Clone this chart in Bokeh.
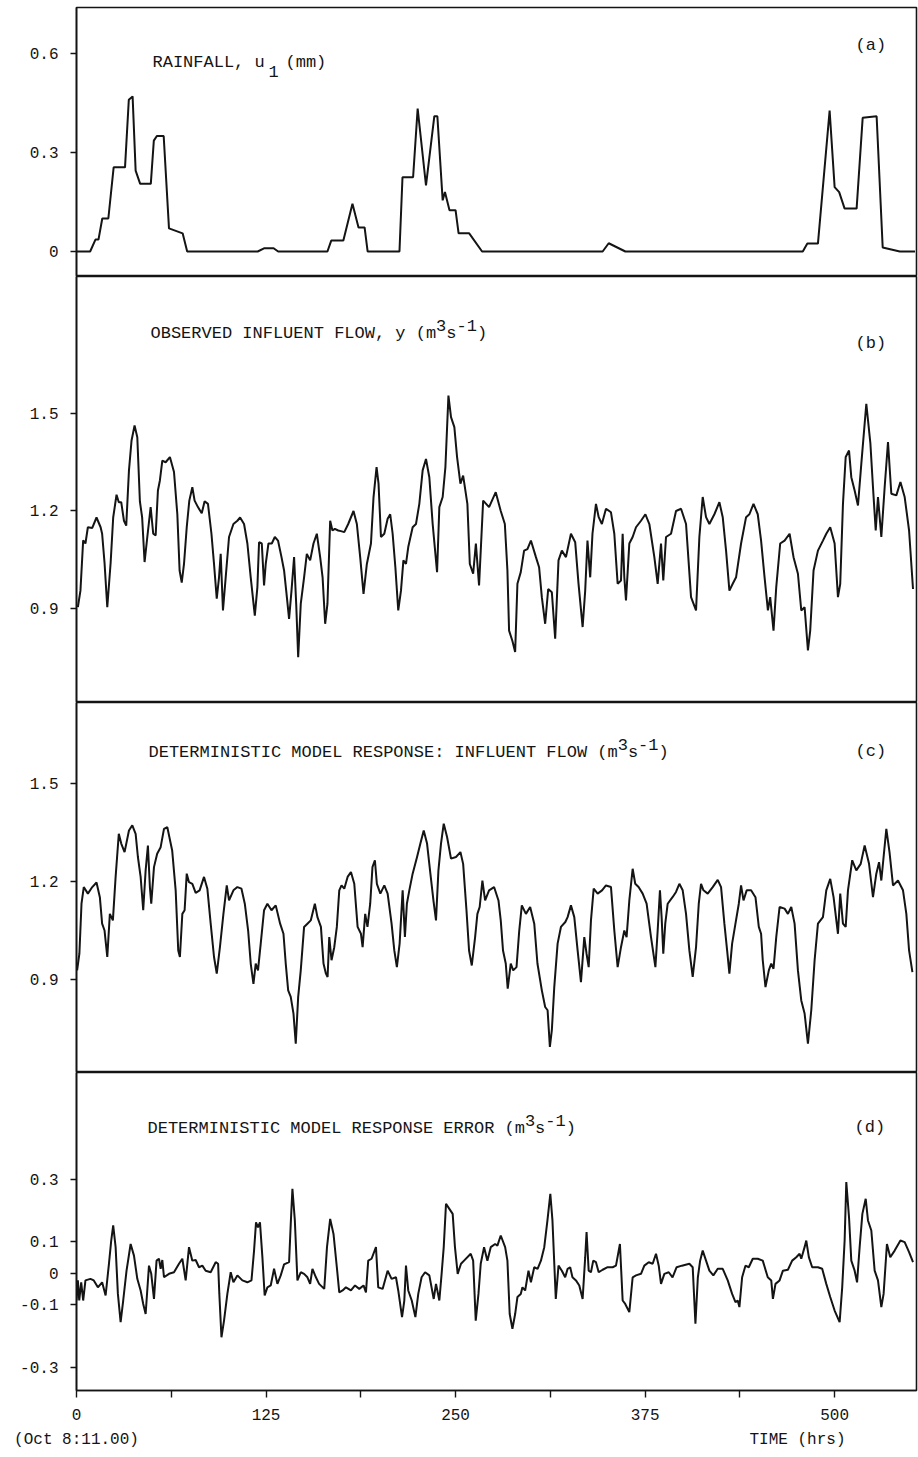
from bokeh.plotting import figure
from bokeh.layouts import column
from bokeh.models import Range1d, FixedTicker, Label, LinearAxis
from bokeh.embed import file_html
from bokeh.resources import INLINE

# ---------------- data (hour, value) ----------------
RAINFALL_MM = [
    (0, 0), (9, 0), (12.5, 0.036), (14.5, 0.036), (17, 0.10), (21, 0.10),
    (24.5, 0.255), (32, 0.255), (34.5, 0.46), (37, 0.47), (39, 0.245),
    (42, 0.205), (49, 0.205), (51, 0.336), (53, 0.35), (57.5, 0.35),
    (61, 0.07), (70, 0.055), (73, 0), (119.5, 0), (124, 0.01), (130, 0.01),
    (133, 0), (165.5, 0), (168, 0.033), (176, 0.033), (182, 0.145),
    (186, 0.073), (190, 0.073), (192, 0), (213, 0), (215, 0.225),
    (222, 0.225), (225, 0.433), (230.5, 0.2), (236, 0.41), (238, 0.41),
    (241.5, 0.155), (243, 0.18), (246, 0.125), (250, 0.125), (252, 0.055),
    (259, 0.055), (267.5, 0), (347, 0), (351, 0.025), (362, 0), (479, 0),
    (482, 0.024), (489, 0.024), (496.7, 0.427), (500, 0.195), (503, 0.18),
    (506.6, 0.13), (514.5, 0.13), (518.5, 0.405), (527.7, 0.41),
    (531.7, 0.012), (543, 0), (553, 0),
]

OBSERVED_FLOW = [
    (0.9, 0.904), (2.6, 0.955), (4.4, 1.11), (5.9, 1.10), (7.5, 1.15), (10.4, 1.148),
    (13.2, 1.18), (15.9, 1.15), (16.9, 1.13), (18.5, 1.04), (20.3, 0.904), (22.5, 1.04),
    (24.2, 1.18), (26.4, 1.25), (27.9, 1.227), (29.5, 1.227), (31.3, 1.17), (32.8, 1.155),
    (34.6, 1.325), (36.3, 1.417), (38.3, 1.463), (40.1, 1.427), (41.8, 1.23), (43.3, 1.18),
    (44.9, 1.043), (46.7, 1.12), (48.9, 1.212), (50.6, 1.13), (52.2, 1.125), (53.7, 1.263),
    (55.0, 1.294), (56.6, 1.355), (58.8, 1.35), (61.6, 1.366), (64.3, 1.32), (66.5, 1.19),
    (68.0, 1.017), (69.4, 0.98), (70.9, 1.037), (72.7, 1.15), (74.4, 1.232), (76.4, 1.273),
    (77.9, 1.232), (80.1, 1.212), (82.6, 1.193), (84.5, 1.23), (86.7, 1.222), (89.0, 1.13),
    (90.7, 1.037), (92.5, 0.93), (94.0, 0.996), (95.1, 1.068), (96.6, 0.894), (98.4, 0.996),
    (100.6, 1.12), (103.5, 1.16), (106.1, 1.17), (107.9, 1.18), (110.5, 1.16), (112.7, 1.1),
    (114.9, 0.996), (117.6, 0.878), (119.3, 0.966), (120.4, 1.104), (122.2, 1.10), (123.7, 0.971),
    (124.8, 1.037), (126.6, 1.1), (128.8, 1.1), (130.8, 1.12), (132.9, 1.109), (135.2, 1.058),
    (136.9, 1.017), (138.3, 0.955), (140.2, 0.868), (141.8, 0.955), (143.5, 1.058), (144.9, 0.914),
    (146.2, 0.75), (147.9, 0.914), (150.1, 0.996), (151.9, 1.068), (154.1, 1.048), (156.3, 1.1),
    (158.5, 1.13), (160.7, 1.058), (162.3, 0.996), (164.0, 0.853), (165.5, 0.914), (167.3, 1.17),
    (168.8, 1.14), (170.4, 1.145), (172.6, 1.14), (174.4, 1.138), (176.6, 1.135), (179.2, 1.16),
    (182.7, 1.2), (184.9, 1.16), (187.1, 1.058), (189.3, 0.945), (191.5, 1.037), (194.2, 1.1),
    (195.9, 1.243), (197.9, 1.335), (199.2, 1.284), (200.8, 1.12), (203.0, 1.13), (205.2, 1.176),
    (206.9, 1.19), (208.5, 1.13), (210.3, 1.027), (212.2, 0.894), (214.0, 0.955), (215.6, 1.048),
    (217.3, 1.037), (218.8, 1.089), (221.7, 1.15), (223.9, 1.16), (226.1, 1.222), (228.3, 1.325),
    (230.5, 1.36), (232.7, 1.304), (234.9, 1.16), (237.8, 1.012), (239.3, 1.212), (241.5, 1.243),
    (243.3, 1.335), (245.3, 1.555), (247.0, 1.489), (249.2, 1.458), (251.0, 1.366), (253.2, 1.284),
    (255.0, 1.309), (257.8, 1.222), (259.4, 1.037), (261.6, 1.007), (263.4, 1.1), (265.5, 0.971),
    (268.2, 1.232), (272.1, 1.212), (276.5, 1.258), (279.8, 1.2), (282.5, 1.16), (284.2, 1.017),
    (285.3, 0.832), (287.5, 0.80), (289.3, 0.766), (290.8, 0.976), (293.0, 1.012), (295.2, 1.078),
    (297.4, 1.083), (299.7, 1.109), (303.0, 1.058), (305.1, 1.027), (306.9, 0.935), (309.1, 0.853),
    (311.1, 0.96), (313.5, 0.95), (315.7, 0.807), (317.9, 1.048), (320.1, 1.078), (322.8, 1.058),
    (326.1, 1.13), (328.9, 1.104), (331.1, 0.976), (333.8, 0.843), (335.5, 0.955), (337.0, 1.109),
    (338.8, 0.996), (340.3, 1.13), (342.6, 1.222), (344.4, 1.181), (346.5, 1.16), (349.2, 1.207),
    (352.5, 1.196), (354.7, 1.13), (356.9, 0.976), (359.1, 0.986), (360.2, 1.13), (361.3, 0.996),
    (362.4, 0.925), (364.6, 1.1), (366.8, 1.12), (369.0, 1.15), (372.3, 1.17), (375.2, 1.19),
    (377.8, 1.16), (381.1, 1.058), (383.3, 0.976), (385.5, 1.1), (387.0, 0.986), (388.8, 1.12),
    (392.1, 1.13), (395.4, 1.2), (398.7, 1.207), (402.0, 1.16), (405.3, 0.935), (408.6, 0.894),
    (410.8, 1.12), (413.0, 1.243), (415.2, 1.181), (417.4, 1.16), (420.7, 1.19), (424.0, 1.227),
    (426.2, 1.181), (428.4, 1.078), (430.6, 0.955), (432.8, 0.976), (435.0, 0.996), (438.3, 1.1),
    (441.6, 1.181), (443.8, 1.19), (446.5, 1.222), (449.3, 1.19), (451.5, 1.109), (453.8, 0.996),
    (456.0, 0.894), (457.5, 0.935), (459.7, 0.832), (461.5, 0.966), (464.1, 1.1), (467.0, 1.109),
    (470.3, 1.13), (472.9, 1.058), (475.8, 1.007), (478.0, 0.894), (480.2, 0.904), (482.4, 0.771),
    (483.9, 0.832), (486.1, 1.017), (489.0, 1.078), (492.3, 1.109), (494.5, 1.13), (497.1, 1.15),
    (500.0, 1.1), (502.2, 0.935), (503.7, 0.976), (505.5, 1.222), (507.3, 1.366), (509.5, 1.386),
    (511.0, 1.304), (513.2, 1.263), (515.4, 1.217), (517.6, 1.345), (520.9, 1.53), (523.6, 1.407),
    (525.3, 1.273), (527.1, 1.14), (528.6, 1.243), (530.8, 1.12), (533.0, 1.273), (535.2, 1.412),
    (537.4, 1.253), (540.7, 1.248), (543.4, 1.289), (546.2, 1.243), (549.1, 1.14), (551.7, 0.96),
]

MODEL_FLOW = [
    (0.4, 0.928), (1.9, 0.979), (3.3, 1.132), (4.8, 1.183), (7.5, 1.163), (10.4, 1.183),
    (13.2, 1.197), (15.4, 1.152), (16.9, 1.071), (18.5, 1.05), (20.3, 0.969), (22.0, 1.101),
    (24.0, 1.081), (25.8, 1.214), (27.9, 1.346), (29.5, 1.316), (31.7, 1.29), (34.6, 1.356),
    (36.8, 1.372), (39.0, 1.346), (40.5, 1.275), (42.3, 1.214), (44.0, 1.112), (45.6, 1.234),
    (47.1, 1.31), (48.4, 1.183), (49.3, 1.132), (51.1, 1.244), (53.2, 1.285), (55.5, 1.305),
    (57.7, 1.361), (59.9, 1.366), (63.1, 1.295), (65.4, 1.173), (67.1, 0.989), (68.2, 0.969),
    (69.8, 1.101), (71.3, 1.112), (72.7, 1.224), (74.2, 1.198), (76.4, 1.193), (78.6, 1.165),
    (81.2, 1.173), (84.1, 1.214), (86.3, 1.178), (88.5, 1.071), (90.7, 0.969), (92.5, 0.918),
    (94.6, 0.999), (96.9, 1.101), (99.1, 1.188), (100.6, 1.142), (103.5, 1.173), (106.1, 1.183),
    (108.8, 1.178), (111.0, 1.132), (113.2, 1.05), (114.9, 0.949), (116.7, 0.887), (118.2, 0.949),
    (119.7, 0.928), (121.5, 1.01), (123.7, 1.112), (125.9, 1.132), (128.6, 1.112), (131.4, 1.127),
    (134.3, 1.071), (136.5, 1.04), (138.0, 0.949), (139.6, 0.867), (141.3, 0.847), (143.1, 0.796),
    (144.6, 0.704), (146.2, 0.847), (147.9, 0.928), (150.1, 1.061), (152.3, 1.071), (154.5, 1.081),
    (157.2, 1.132), (158.9, 1.091), (161.2, 1.061), (162.9, 0.949), (164.5, 0.918), (165.6, 0.908),
    (166.7, 1.03), (168.2, 0.959), (170.0, 0.999), (171.7, 1.061), (173.3, 1.173), (174.8, 1.188),
    (176.6, 1.178), (178.8, 1.214), (181.0, 1.229), (183.2, 1.193), (185.4, 1.061), (187.6, 1.04),
    (188.7, 0.999), (190.4, 1.101), (191.9, 1.061), (193.7, 1.132), (195.2, 1.244), (196.8, 1.265),
    (198.1, 1.193), (200.4, 1.163), (203.0, 1.188), (205.2, 1.163), (207.8, 1.071), (209.6, 0.989),
    (211.3, 0.938), (213.1, 1.01), (215.1, 1.173), (216.6, 1.03), (217.9, 1.132), (219.5, 1.173),
    (221.7, 1.224), (224.6, 1.275), (226.8, 1.316), (229.0, 1.356), (231.2, 1.316), (233.4, 1.224),
    (235.4, 1.142), (237.1, 1.081), (238.7, 1.234), (240.4, 1.316), (242.2, 1.377), (244.4, 1.336),
    (247.0, 1.27), (250.3, 1.275), (253.2, 1.29), (255.0, 1.254), (257.2, 1.112), (258.9, 0.989),
    (260.7, 0.943), (262.9, 1.03), (264.4, 1.101), (265.9, 1.122), (267.7, 1.203), (269.5, 1.142),
    (272.1, 1.173), (275.4, 1.183), (278.3, 1.142), (279.8, 1.081), (281.3, 0.989), (283.1, 0.949),
    (284.4, 0.872), (286.4, 0.949), (288.0, 0.928), (290.2, 0.938), (292.0, 1.05), (293.7, 1.127),
    (296.4, 1.101), (299.2, 1.122), (301.9, 1.071), (304.0, 0.949), (306.9, 0.867), (309.1, 0.816),
    (310.7, 0.806), (312.2, 0.694), (313.5, 0.745), (315.1, 0.877), (317.3, 1.01), (319.5, 1.061),
    (322.4, 1.076), (323.9, 1.091), (326.1, 1.127), (328.3, 1.091), (330.5, 0.989), (332.7, 0.892),
    (334.9, 1.03), (336.4, 0.979), (337.8, 0.938), (339.3, 1.081), (341.1, 1.178), (343.7, 1.163),
    (346.6, 1.173), (349.2, 1.188), (352.5, 1.183), (354.7, 1.05), (356.9, 0.938), (359.1, 0.999),
    (361.3, 1.05), (362.8, 1.03), (364.6, 1.142), (366.8, 1.239), (368.5, 1.193), (370.7, 1.183),
    (373.4, 1.163), (376.0, 1.132), (378.9, 1.03), (381.8, 0.938), (383.3, 1.05), (384.8, 1.173),
    (385.9, 1.091), (387.0, 0.979), (388.3, 1.071), (389.9, 1.132), (393.1, 1.152), (395.4, 1.168),
    (397.6, 1.193), (399.8, 1.173), (402.0, 1.101), (404.2, 0.989), (406.4, 0.908), (408.6, 0.999),
    (410.4, 1.132), (411.9, 1.193), (413.5, 1.173), (416.3, 1.163), (419.6, 1.183), (422.9, 1.205),
    (425.1, 1.183), (427.3, 1.071), (429.1, 0.989), (430.6, 0.918), (432.4, 1.01), (434.6, 1.071),
    (436.8, 1.132), (438.3, 1.188), (439.9, 1.142), (442.0, 1.173), (444.9, 1.173), (447.8, 1.152),
    (450.0, 1.061), (451.5, 1.04), (452.6, 0.959), (454.4, 0.877), (456.6, 0.928), (458.2, 0.949),
    (459.7, 0.933), (461.5, 1.03), (463.7, 1.122), (467.0, 1.117), (469.2, 1.101), (471.4, 1.122),
    (473.6, 1.071), (475.8, 0.928), (478.0, 0.836), (480.2, 0.796), (482.4, 0.704), (484.6, 0.806),
    (486.8, 0.959), (489.0, 1.071), (492.3, 1.091), (494.5, 1.173), (497.1, 1.208), (499.3, 1.152),
    (502.2, 1.04), (503.7, 1.163), (505.5, 1.071), (507.3, 1.061), (508.8, 1.173), (511.6, 1.265),
    (514.3, 1.234), (517.2, 1.254), (519.8, 1.31), (522.7, 1.254), (525.3, 1.152), (527.5, 1.224),
    (529.3, 1.259), (530.8, 1.203), (532.3, 1.275), (534.1, 1.361), (536.2, 1.29), (538.5, 1.188),
    (541.8, 1.203), (545.1, 1.173), (547.3, 1.101), (549.1, 0.989), (551.3, 0.923),
]

MODEL_ERROR = [
    (0.0, -0.087), (0.9, -0.023), (1.8, -0.087), (3.1, -0.029), (4.4, -0.087), (5.9, -0.023),
    (9.2, -0.018), (11.4, -0.023), (14.1, -0.045), (16.9, -0.029), (19.2, -0.071), (21.4, 0.03),
    (22.9, 0.104), (24.2, 0.152), (25.8, 0.083), (27.3, -0.066), (29.1, -0.156), (30.8, -0.087),
    (33.0, 0.008), (35.7, 0.093), (37.9, 0.056), (40.1, -0.018), (42.3, -0.055), (44.0, -0.098),
    (45.6, -0.13), (47.8, 0.024), (49.3, -0.002), (51.1, -0.082), (52.8, 0.04), (54.4, 0.046),
    (55.5, 0.014), (56.6, 0.042), (57.7, -0.013), (61.0, -0.002), (64.3, 0.003), (67.6, 0.03),
    (69.8, 0.046), (72.0, -0.023), (74.2, 0.083), (76.4, 0.04), (78.6, 0.042), (80.8, 0.019),
    (83.0, 0.024), (85.2, 0.008), (88.5, 0.003), (91.8, 0.035), (93.4, 0.03), (94.2, -0.066),
    (95.6, -0.204), (97.3, -0.151), (99.5, -0.066), (101.7, 0.003), (103.5, -0.029), (106.1, -0.007),
    (109.4, -0.023), (112.7, -0.029), (115.4, -0.023), (117.1, 0.072), (118.4, 0.162), (119.7, 0.146),
    (121.0, 0.162), (122.6, 0.051), (124.1, -0.071), (125.9, -0.045), (128.1, -0.039), (130.3, 0.014),
    (132.5, -0.034), (134.7, -0.007), (136.9, 0.028), (140.2, 0.035), (141.3, 0.157), (142.4, 0.269),
    (144.0, 0.168), (145.7, -0.023), (147.9, 0.003), (150.1, -0.002), (152.3, -0.013), (154.1, -0.034),
    (155.6, 0.014), (157.9, -0.013), (160.0, -0.034), (163.4, -0.05), (165.2, 0.083), (167.3, 0.173),
    (169.5, 0.125), (171.7, 0.019), (173.3, -0.061), (175.5, -0.055), (177.7, -0.045), (181.0, -0.055),
    (183.7, -0.039), (186.5, -0.05), (189.3, -0.039), (190.9, -0.061), (192.4, 0.04), (194.6, 0.046),
    (197.5, 0.083), (199.0, -0.045), (201.9, -0.05), (205.2, 0.008), (207.8, -0.018), (210.7, -0.013),
    (212.2, -0.055), (214.7, -0.14), (216.2, -0.087), (217.3, 0.024), (218.8, -0.055), (221.1, -0.087),
    (223.5, -0.14), (225.4, -0.066), (227.6, -0.013), (229.9, 0.003), (232.7, -0.007), (235.6, -0.082),
    (237.1, -0.034), (239.3, -0.087), (240.8, -0.002), (242.2, 0.083), (243.7, 0.221), (245.9, 0.205),
    (248.1, 0.189), (249.6, 0.083), (251.4, -0.002), (253.6, 0.03), (255.6, 0.04), (260.0, 0.062),
    (261.6, 0.04), (263.3, -0.151), (265.1, -0.066), (266.6, 0.03), (268.8, 0.083), (271.0, 0.04),
    (273.2, 0.083), (276.1, 0.093), (277.6, 0.088), (279.8, 0.12), (282.7, 0.083), (284.2, 0.04),
    (285.7, -0.13), (287.5, -0.177), (289.3, -0.13), (290.8, -0.076), (293.0, -0.066), (294.1, -0.045),
    (295.9, -0.055), (298.1, 0.008), (299.7, -0.029), (301.9, 0.019), (304.1, 0.014), (306.3, 0.04),
    (308.5, 0.083), (310.6, 0.168), (312.5, 0.253), (313.9, 0.168), (316.1, -0.082), (317.9, 0.024),
    (320.1, 0.008), (322.3, -0.013), (323.9, 0.014), (325.6, 0.019), (327.1, -0.013), (329.4, -0.023),
    (331.6, -0.039), (333.8, -0.082), (335.5, 0.051), (336.4, 0.131), (337.8, 0.008), (339.3, 0.003),
    (340.8, 0.04), (342.6, 0.035), (344.4, 0.003), (347.0, 0.011), (350.3, 0.019), (353.6, 0.019),
    (355.8, 0.024), (358.4, 0.093), (360.2, -0.087), (361.9, -0.098), (364.6, -0.124), (366.8, -0.013),
    (369.0, -0.007), (372.3, -0.002), (374.5, 0.024), (377.4, 0.035), (380.0, 0.03), (382.2, 0.062),
    (384.0, 0.024), (385.5, -0.034), (387.7, -0.002), (390.6, 0.003), (393.1, -0.013), (395.8, 0.019),
    (399.3, 0.024), (404.2, 0.03), (406.4, 0.019), (408.2, -0.161), (409.8, -0.013), (411.3, 0.04),
    (413.0, 0.072), (415.2, 0.04), (417.4, 0.008), (420.0, -0.007), (422.9, 0.014), (426.2, 0.014),
    (429.5, -0.023), (432.4, -0.066), (434.6, -0.092), (436.1, -0.087), (437.2, -0.108), (439.0, -0.013),
    (441.2, 0.024), (443.4, 0.019), (446.0, 0.046), (449.3, 0.046), (452.6, 0.04), (455.9, -0.013),
    (458.2, -0.023), (459.3, -0.082), (461.0, -0.034), (463.7, -0.023), (465.9, 0.008), (469.2, 0.011),
    (472.0, 0.04), (474.7, 0.051), (476.9, 0.062), (478.0, 0.046), (480.2, 0.083), (481.3, 0.104),
    (483.0, 0.051), (485.2, 0.019), (489.0, 0.019), (491.8, 0.014), (494.5, -0.034), (497.1, -0.076),
    (500.0, -0.119), (503.3, -0.156), (505.0, -0.045), (506.6, 0.104), (507.7, 0.29), (509.5, 0.178),
    (511.0, 0.04), (513.2, 0.008), (514.8, -0.029), (516.5, 0.083), (518.3, 0.189), (520.5, 0.237),
    (522.0, 0.168), (524.2, 0.136), (526.4, 0.008), (528.6, -0.023), (530.8, -0.108), (532.3, -0.066),
    (534.5, 0.093), (536.7, 0.051), (539.6, 0.072), (543.4, 0.104), (546.2, 0.099), (549.1, 0.067),
    (551.7, 0.035),
]

RAIN_TICKS = [0, 0.3, 0.6]
FLOW_TICKS = [0.9, 1.2, 1.5]
ERROR_TICKS = [-0.3, -0.1, 0, 0.1, 0.3]
TIME_TICKS = [0, 62.5, 125, 187.5, 250, 312.5, 375, 437.5, 500]
TIME_LABELS = {0: "0", 62.5: "", 125: "125", 187.5: "", 250: "250",
               312.5: "", 375: "375", 437.5: "", 500: "500"}
START_LABEL = "(Oct 8:11.00)"
TIME_AXIS_NAME = "TIME (hrs)"

# ---------------- layout / style ----------------
FONT = "Liberation Mono"
INK = "#141414"
W = 918
LEFT = 76
RIGHT = 2
XR = (0.0, 554.0)
FRAME_W = W - LEFT - RIGHT
CW = 10.2  # monospace advance at 17px


def X(px):
    return XR[0] + (px - LEFT) / FRAME_W * (XR[1] - XR[0])


def style_axis(ax, tick_out, standoff):
    ax.major_tick_out = tick_out
    ax.major_tick_in = 0
    ax.minor_tick_out = 0
    ax.minor_tick_in = 0
    ax.axis_line_color = INK
    ax.axis_line_width = 1.6
    ax.major_tick_line_color = INK
    ax.major_tick_line_width = 1.4
    ax.major_label_standoff = standoff
    ax.major_label_text_font = FONT
    ax.major_label_text_font_size = "16px"
    ax.major_label_text_color = INK


def make_panel(height, top, bottom, yr, ticks, xaxis=False):
    p = figure(width=W, height=height, output_backend="svg", toolbar_location=None,
               x_range=Range1d(*XR), y_range=Range1d(*yr),
               x_axis_location="below" if xaxis else None,
               y_axis_location="left", min_border=0,
               min_border_left=LEFT, min_border_right=RIGHT,
               min_border_top=top, min_border_bottom=bottom)
    p.grid.visible = False
    p.outline_line_color = INK
    p.outline_line_width = 1.6
    p.background_fill_color = "white"
    p.border_fill_color = "white"
    ax = p.yaxis[0]
    ax.ticker = FixedTicker(ticks=ticks, minor_ticks=[])
    ax.major_label_overrides = {t: ("0" if t == 0 else f"{t:g}") for t in ticks}
    style_axis(ax, 6, 12)
    return p


def line(p, pairs):
    p.line([a for a, b in pairs], [b for a, b in pairs], line_color=INK, line_width=2.0)


def put(p, geom, px, py, text, size="17px"):
    ftop, fh, ymin, ymax = geom
    y = ymax - (py - ftop) / fh * (ymax - ymin)
    p.add_layout(Label(x=X(px), y=y, text=text, text_font=FONT, text_font_size=size,
                       text_color=INK, text_baseline="middle", text_align="left"))


def title_units(p, geom, px, py, main):
    # main text followed by (m^3 s^-1)
    put(p, geom, px, py, main)
    x = px + len(main) * CW
    put(p, geom, x, py - 8, "3")
    x += CW
    put(p, geom, x, py, "s")
    x += CW
    put(p, geom, x, py - 8, "-1")
    x += 2 * CW
    put(p, geom, x, py, ")")


# panel geometry: (frame top px inside its figure, frame height, ymin, ymax)
GA = (7, 269, -0.0758, 0.7394)
GB = (0, 426, 0.6108, 1.9215)
GC = (0, 370, 0.6156, 1.7477)
GD = (0, 318, -0.3736, 0.6392)

pa = make_panel(276, 7, 0, (GA[2], GA[3]), RAIN_TICKS)
line(pa, RAINFALL_MM)
put(pa, GA, 152, 62, "RAINFALL,  u")
put(pa, GA, 268, 71, "1")
put(pa, GA, 285, 62, "(mm)")
put(pa, GA, 855, 45, "(a)")

pb = make_panel(426, 0, 0, (GB[2], GB[3]), FLOW_TICKS)
line(pb, OBSERVED_FLOW)
title_units(pb, GB, 150, 333 - 276, "OBSERVED INFLUENT FLOW, y (m")
put(pb, GB, 855, 343 - 276, "(b)")

pc = make_panel(370, 0, 0, (GC[2], GC[3]), FLOW_TICKS)
line(pc, MODEL_FLOW)
title_units(pc, GC, 148, 751.5 - 702, "DETERMINISTIC MODEL RESPONSE: INFLUENT FLOW (m")
put(pc, GC, 855, 751 - 702, "(c)")

pd = make_panel(385, 0, 67, (GD[2], GD[3]), ERROR_TICKS, xaxis=True)
line(pd, MODEL_ERROR)
title_units(pd, GD, 147, 1127.5 - 1072, "DETERMINISTIC MODEL RESPONSE ERROR (m")
put(pd, GD, 854, 1127 - 1072, "(d)")

xa = pd.xaxis[0]
xa.ticker = FixedTicker(ticks=TIME_TICKS, minor_ticks=[])
xa.major_label_overrides = TIME_LABELS
style_axis(xa, 7, 11)

# second, line-less axis row under the time axis: start date and axis name
pos_start = X(76)
pos_name = X(797)
xb = LinearAxis(ticker=FixedTicker(ticks=[pos_start, pos_name], minor_ticks=[]),
                major_label_overrides={pos_start: START_LABEL, pos_name: TIME_AXIS_NAME})
style_axis(xb, 0, 8)
xb.axis_line_color = None
xb.major_tick_line_color = None
pd.add_layout(xb, "below")

layout = column(pa, pb, pc, pd, spacing=0)
open("out.html", "w").write(file_html(layout, INLINE))
